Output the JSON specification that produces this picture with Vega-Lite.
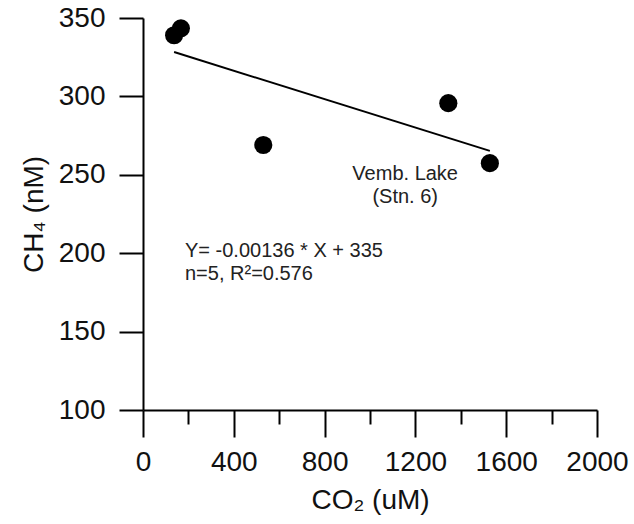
{
  "$schema": "https://vega.github.io/schema/vega-lite/v6.json",
  "width": 454,
  "height": 392,
  "autosize": {"type": "none"},
  "padding": {"left": 143, "top": 18, "right": 37, "bottom": 114},
  "background": "white",
  "config": {
    "view": {"stroke": null},
    "font": "Liberation Sans",
    "axis": {
      "domainColor": "black",
      "domainWidth": 2,
      "tickColor": "black",
      "tickWidth": 2,
      "labelColor": "#111",
      "titleColor": "#111",
      "labelFont": "Liberation Sans",
      "titleFont": "Liberation Sans",
      "labelFontSize": 28,
      "titleFontSize": 28,
      "titleFontWeight": "normal",
      "grid": false
    }
  },
  "datasets": {
    "pts": [
      {"co2": 137, "ch4": 339},
      {"co2": 167, "ch4": 343.4},
      {"co2": 530, "ch4": 269},
      {"co2": 1345, "ch4": 295.7},
      {"co2": 1528, "ch4": 257.4}
    ],
    "notes": [
      {"co2": 185, "ch4": 201.2, "txt": "Y= -0.00136 * X + 335"},
      {"co2": 185, "ch4": 186.8, "txt": "n=5, R²=0.576"}
    ],
    "site": [
      {"co2": 1155, "ch4": 250.2, "txt": "Vemb. Lake"},
      {"co2": 1155, "ch4": 235.6, "txt": "(Stn. 6)"}
    ]
  },
  "layer": [
    {
      "data": {"name": "pts"},
      "mark": {"type": "point", "filled": true, "color": "black", "opacity": 1, "size": 330},
      "encoding": {
        "x": {
          "field": "co2", "type": "quantitative",
          "scale": {"domain": [0, 2000], "nice": false, "zero": false},
          "axis": {
            "title": "CO₂ (uM)",
            "values": [0, 200, 400, 600, 800, 1000, 1200, 1400, 1600, 1800, 2000],
            "labelExpr": "datum.value % 400 === 0 ? datum.label : ''",
            "format": "d",
            "tickSize": {"condition": {"test": "datum.value % 400 === 0", "value": 27}, "value": 14},
            "labelPadding": 11,
            "titlePadding": 10,
            "labelFlush": false,
            "labelOverlap": false
          }
        },
        "y": {
          "field": "ch4", "type": "quantitative",
          "scale": {"domain": [100, 350], "nice": false, "zero": false},
          "axis": {
            "title": "CH₄ (nM)",
            "values": [100, 125, 150, 175, 200, 225, 250, 275, 300, 325, 350],
            "labelExpr": "datum.value % 50 === 0 ? datum.label : ''",
            "tickSize": {"condition": {"test": "datum.value % 50 === 0", "value": 24}, "value": 12},
            "labelPadding": 14,
            "titlePadding": 10,
            "labelFlush": false,
            "labelOverlap": false
          }
        }
      }
    },
    {
      "data": {"name": "pts"},
      "transform": [{"regression": "ch4", "on": "co2"}],
      "mark": {"type": "line", "color": "black", "strokeWidth": 2},
      "encoding": {
        "x": {"field": "co2", "type": "quantitative"},
        "y": {"field": "ch4", "type": "quantitative"}
      }
    },
    {
      "data": {"name": "notes"},
      "mark": {"type": "text", "align": "left", "baseline": "middle", "fontSize": 20, "color": "#222", "font": "Liberation Sans"},
      "encoding": {
        "x": {"field": "co2", "type": "quantitative"},
        "y": {"field": "ch4", "type": "quantitative"},
        "text": {"field": "txt"}
      }
    },
    {
      "data": {"name": "site"},
      "mark": {"type": "text", "align": "center", "baseline": "middle", "fontSize": 20, "color": "#222", "font": "Liberation Sans"},
      "encoding": {
        "x": {"field": "co2", "type": "quantitative"},
        "y": {"field": "ch4", "type": "quantitative"},
        "text": {"field": "txt"}
      }
    }
  ]
}
